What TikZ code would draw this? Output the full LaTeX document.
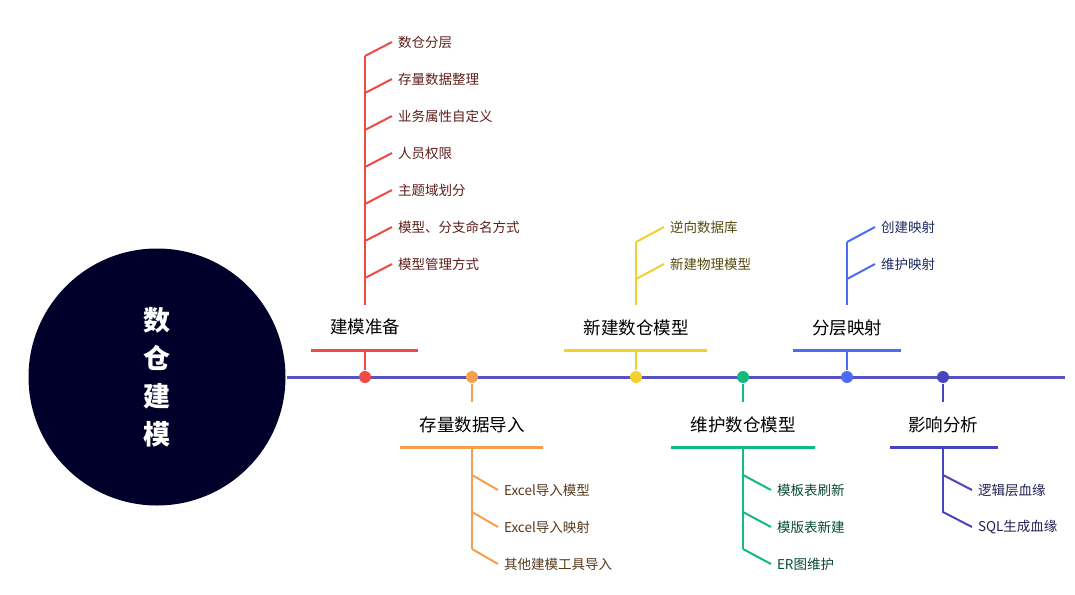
\documentclass[tikz,border=0pt]{standalone}
\usepackage{fontspec}
\setmainfont{Noto Sans CJK SC}
\usetikzlibrary{positioning}

\definecolor{hubcol}{HTML}{00002A}
\definecolor{spinecol}{HTML}{5652C4}
\definecolor{redcol}{HTML}{F04A44}
\definecolor{orangecol}{HTML}{F5A04F}
\definecolor{yellowcol}{HTML}{F2D12C}
\definecolor{greencol}{HTML}{14B97C}
\definecolor{bluecol}{HTML}{4D6CF5}
\definecolor{indigocol}{HTML}{4B45BA}

\begin{document}
\begin{tikzpicture}[x=1pt,y=-1pt,line width=2pt]

    \tikzstyle{dot}=[circle,inner sep=0pt,minimum size=12pt]
    \tikzstyle{topic}=[inner sep=0pt,font=\fontsize{17.5}{18}\selectfont]
    \tikzstyle{leaf}=[anchor=west,inner xsep=5pt,inner ysep=0pt,font=\fontsize{13.5}{14}\selectfont]
    \tikzstyle{bar}=[line width=3pt]

    \useasboundingbox (0,0) rectangle (1075,594);

    % hub and spine
    \node[circle,fill=hubcol,minimum size=257pt,inner sep=0pt,align=center,text=white,
          font=\fontsize{27}{38}\selectfont\bfseries] (hub) at (157,377) {数\\仓\\建\\模};
    \coordinate (tail) at (1065,377);
    \draw[spinecol,line width=3pt] (hub) -- (tail);

    % 建模准备
    \node[dot,fill=redcol]   (d1) at (365,377) {};
    \coordinate (b1l) at (311,350); \coordinate (b1) at (365,350); \coordinate (b1r) at (418,350);
    \node[topic]             (t1) at (365,327) {建模准备};
    \coordinate (v1bot) at (365,305); \coordinate (v1top) at (365,56);
    \draw[redcol] (d1) -- (b1);
    \draw[redcol,bar] (b1l) -- (b1r);
    \draw[redcol] (v1bot) -- (v1top);
    \begin{scope}[every node/.style={leaf,text=redcol!40!black}]
    \node (a1) at (392,42)  {数仓分层};
    \node (a2) at (392,79)  {存量数据整理};
    \node (a3) at (392,116) {业务属性自定义};
    \node (a4) at (392,153) {人员权限};
    \node (a5) at (392,190) {主题域划分};
    \node (a6) at (392,227) {模型、分支命名方式};
    \node (a7) at (392,264) {模型管理方式};
    \end{scope}
    \foreach \n in {a1,a2,a3,a4,a5,a6,a7}
      \draw[redcol] (\n.west) -- ++(-27,14);

    % 存量数据导入
    \node[dot,fill=orangecol] (d2) at (472,377) {};
    \coordinate (s2) at (472,402);
    \node[topic]              (t2) at (472,425) {存量数据导入};
    \coordinate (b2l) at (400,447); \coordinate (b2) at (472,447); \coordinate (b2r) at (543,447);
    \coordinate (v2bot) at (472,549);
    \draw[orangecol] (d2) -- (s2);
    \draw[orangecol,bar] (b2l) -- (b2r);
    \draw[orangecol] (b2) -- (v2bot);
    \begin{scope}[every node/.style={leaf,text=orangecol!35!black}]
    \node (c1) at (498,490) {Excel导入模型};
    \node (c2) at (498,527) {Excel导入映射};
    \node (c3) at (498,564) {其他建模工具导入};
    \end{scope}
    \foreach \n in {c1,c2,c3}
      \draw[orangecol] (\n.west) -- ++(-26,-15);

    % 新建数仓模型
    \node[dot,fill=yellowcol] (d3) at (636,377) {};
    \coordinate (b3l) at (564,350); \coordinate (b3) at (636,350); \coordinate (b3r) at (707,350);
    \node[topic]              (t3) at (636,328) {新建数仓模型};
    \coordinate (v3bot) at (636,305); \coordinate (v3top) at (636,242);
    \draw[yellowcol] (d3) -- (b3);
    \draw[yellowcol,bar] (b3l) -- (b3r);
    \draw[yellowcol] (v3bot) -- (v3top);
    \begin{scope}[every node/.style={leaf,text=yellowcol!35!black}]
    \node (e1) at (664,227) {逆向数据库};
    \node (e2) at (664,264) {新建物理模型};
    \end{scope}
    \foreach \n in {e1,e2}
      \draw[yellowcol] (\n.west) -- ++(-28,15);

    % 维护数仓模型
    \node[dot,fill=greencol] (d4) at (743,377) {};
    \coordinate (s4) at (743,402);
    \node[topic]             (t4) at (743,425) {维护数仓模型};
    \coordinate (b4l) at (671,447); \coordinate (b4) at (743,447); \coordinate (b4r) at (815,447);
    \coordinate (v4bot) at (743,549);
    \draw[greencol] (d4) -- (s4);
    \draw[greencol,bar] (b4l) -- (b4r);
    \draw[greencol] (b4) -- (v4bot);
    \begin{scope}[every node/.style={leaf,text=greencol!40!black}]
    \node (g1) at (771,490) {模板表刷新};
    \node (g2) at (771,527) {模版表新建};
    \node (g3) at (771,564) {ER图维护};
    \end{scope}
    \foreach \n in {g1,g2,g3}
      \draw[greencol] (\n.west) -- ++(-28,-15);

    % 分层映射
    \node[dot,fill=bluecol] (d5) at (847,377) {};
    \coordinate (b5l) at (793,350); \coordinate (b5) at (847,350); \coordinate (b5r) at (901,350);
    \node[topic]            (t5) at (847,328) {分层映射};
    \coordinate (v5bot) at (847,305); \coordinate (v5top) at (847,242);
    \draw[bluecol] (d5) -- (b5);
    \draw[bluecol,bar] (b5l) -- (b5r);
    \draw[bluecol] (v5bot) -- (v5top);
    \begin{scope}[every node/.style={leaf,text=bluecol!40!black}]
    \node (h1) at (875,227) {创建映射};
    \node (h2) at (875,264) {维护映射};
    \end{scope}
    \foreach \n in {h1,h2}
      \draw[bluecol] (\n.west) -- ++(-28,15);

    % 影响分析
    \node[dot,fill=indigocol] (d6) at (943,377) {};
    \coordinate (s6) at (943,402);
    \node[topic]              (t6) at (943,425) {影响分析};
    \coordinate (b6l) at (890,447); \coordinate (b6) at (943,447); \coordinate (b6r) at (998,447);
    \coordinate (v6bot) at (943,513);
    \draw[indigocol] (d6) -- (s6);
    \draw[indigocol,bar] (b6l) -- (b6r);
    \draw[indigocol] (b6) -- (v6bot);
    \begin{scope}[every node/.style={leaf,text=indigocol!45!black}]
    \node (k1) at (972,490) {逻辑层血缘};
    \node (k2) at (972,527) {SQL生成血缘};
    \end{scope}
    \foreach \n in {k1,k2}
      \draw[indigocol] (\n.west) -- ++(-29,-15);

\end{tikzpicture}
\end{document}
